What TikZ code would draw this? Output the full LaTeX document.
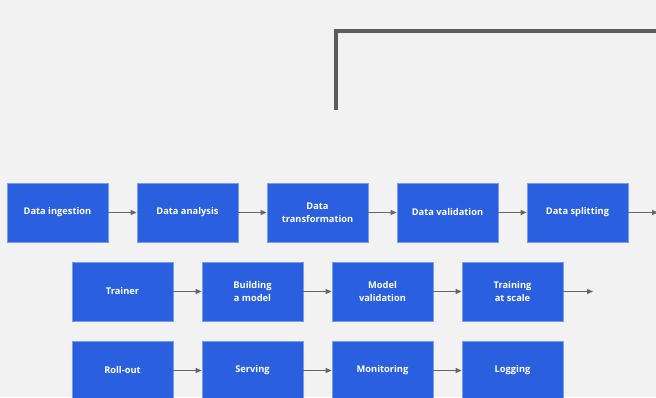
\documentclass[tikz,border=0pt]{standalone}
\usepackage{fontspec}
\setmainfont{Open Sans}
\usetikzlibrary{arrows.meta}
\definecolor{bg}{HTML}{F2F2F3}
\definecolor{boxfill}{HTML}{2A5FDF}
\definecolor{boxline}{HTML}{7A9CF0}
\definecolor{linkgray}{HTML}{666666}
\definecolor{railgray}{HTML}{5C5C5C}
\tikzset{
  stage/.style={draw=boxline, line width=0.8pt, fill=boxfill,
    minimum width=101pt, minimum height=59pt, inner sep=0pt,
    text=white, align=center, font=\fontsize{9.3pt}{13pt}\selectfont\bfseries},
  link/.style={draw=linkgray, line width=1.1pt,
    -{Triangle[length=6pt,width=5pt]}},
  rail/.style={draw=railgray, line width=4pt}
}
\begin{document}
\begin{tikzpicture}[x=1pt,y=-1pt]
  \useasboundingbox (0,0) rectangle (656,397);
  \clip (0,0) rectangle (656,397);
  \fill[bg] (0,0) rectangle (656,397);

  % top rail
  \coordinate (r0) at (336,110);
  \coordinate (r1) at (336,31);
  \coordinate (r2) at (660,31);
  \draw[rail] (r0) -- (r1) -- (r2);

  % data pipeline
  \node[stage] (ing) at (57.5,212.5) {Data ingestion};
  \node[stage] (ana) at (187.5,212.5) {Data analysis};
  \node[stage] (tra) at (317.5,212.5) {Data\\transformation};
  \node[stage] (val) at (447.5,212.5) {Data validation};
  \node[stage] (spl) at (577.5,212.5) {Data splitting};
  \coordinate (splout) at (658,212.5);

  % training
  \node[stage] (trn) at (122.5,291.5) {Trainer};
  \node[stage] (bld) at (252.5,291.5) {Building\\a model};
  \node[stage] (mvl) at (382.5,291.5) {Model\\validation};
  \node[stage] (tas) at (512.5,291.5) {Training\\at scale};
  \coordinate (tasout) at (593,291.5);

  % deployment
  \node[stage] (rol) at (122.5,370.5) {Roll-out};
  \node[stage] (srv) at (252.5,370.5) {Serving};
  \node[stage] (mon) at (382.5,370.5) {Monitoring};
  \node[stage] (log) at (512.5,370.5) {Logging};

  \draw[link] (ing) -- (ana);
  \draw[link] (ana) -- (tra);
  \draw[link] (tra) -- (val);
  \draw[link] (val) -- (spl);
  \draw[link] (spl) -- (splout);

  \draw[link] (trn) -- (bld);
  \draw[link] (bld) -- (mvl);
  \draw[link] (mvl) -- (tas);
  \draw[link] (tas) -- (tasout);

  \draw[link] (rol) -- (srv);
  \draw[link] (srv) -- (mon);
  \draw[link] (mon) -- (log);
\end{tikzpicture}
\end{document}
